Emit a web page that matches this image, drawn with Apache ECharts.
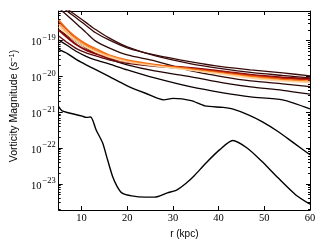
<!DOCTYPE html>
<html>
<head>
<meta charset="utf-8">
<script src="https://cdn.jsdelivr.net/npm/echarts@6/dist/echarts.min.js"></script>
<style>html,body{margin:0;padding:0;background:#fff}#c{width:327px;height:246px}</style>
</head>
<body>
<div id="c"></div>
<script>
// ---- data (r in kpc, vorticity in s^-1) ----
const xTicks = [10, 20, 30, 40, 50, 60];
const yTickExps = [-23, -22, -21, -20, -19];
const yTicks = [1e-23, 1e-22, 1e-21, 1e-20, 1e-19];

const rL1 = [5, 5.75, 7.5, 8.9, 10, 11.1, 12, 13.2, 14.6, 15.7, 16.8, 17.8, 18.9, 21, 23.9, 26, 28.8, 30.9, 33, 34.5, 37.3, 40.2, 43.1, 46.3, 49.5, 53, 56.9, 60];
const vL1 = [1.44e-21, 1.09e-21, 9.4e-22, 8.5e-22, 7.9e-22, 7.2e-22, 7.4e-22, 3.2e-22, 1.40e-22, 4.7e-23, 1.6e-23, 8.4e-24, 5.5e-24, 4.6e-24, 4.25e-24, 4.25e-24, 5.6e-24, 6.8e-24, 1.07e-23, 1.6e-23, 3.9e-23, 8.9e-23, 1.62e-22, 9.9e-23, 4.2e-23, 1.47e-23, 4.9e-24, 2.7e-24];

const rL2 = [5, 7, 9, 11, 13, 16, 20, 24, 28, 30, 34, 37, 41, 43, 46.5, 49.5, 53, 56.5, 60];
const vL2 = [5.7e-20, 4.3e-20, 2.9e-20, 2.11e-20, 1.58e-20, 1.01e-20, 5.5e-21, 3.4e-21, 2.22e-21, 2.44e-21, 2.12e-21, 1.51e-21, 1.37e-21, 1.24e-21, 8.5e-22, 5.5e-22, 2.9e-22, 1.37e-22, 6.5e-23];

const rB = [5, 7, 9, 11, 13, 16, 20, 26, 34, 41, 47, 54, 60];
const vL3  = [1.05e-19, 7.2e-20, 4.9e-20, 3.65e-20, 2.9e-20, 2.25e-20, 1.53e-20, 9.1e-21, 5.1e-21, 3.5e-21, 2.7e-21, 2.22e-21, 1.24e-21];
const vL4  = [2.0e-19, 1.36e-19, 9.2e-20, 6.3e-20, 4.6e-20, 3.1e-20, 2.11e-20, 1.43e-20, 9.75e-21, 6.6e-21, 5.1e-21, 4.1e-21, 3.2e-21];
const vUa  = [8.2e-19, 4.9e-19, 2.9e-19, 1.68e-19, 9.9e-20, 6.3e-20, 4.0e-20, 2.73e-20, 1.43e-20, 9.75e-21, 7.5e-21, 6.2e-21, 5.2e-21];
const vUb  = [1.02e-18, 6.5e-19, 4.2e-19, 2.66e-19, 1.69e-19, 1.05e-19, 6.3e-20, 4.0e-20, 2.56e-20, 1.85e-20, 1.53e-20, 1.26e-20, 1.04e-20];
const vUc  = [1.14e-18, 7.5e-19, 4.9e-19, 3.2e-19, 2.08e-19, 1.2e-19, 6.7e-20, 3.8e-20, 2.25e-20, 1.63e-20, 1.30e-20, 1.07e-20, 9.1e-21];
const vBd2 = [1.36e-19, 8.7e-20, 5.9e-20, 4.6e-20, 3.8e-20, 2.9e-20, 2.32e-20, 1.91e-20, 1.63e-20, 1.34e-20, 1.07e-20, 9.1e-21, 8.3e-21];
const vBd  = [2.0e-19, 1.2e-19, 7.6e-20, 5.5e-20, 4.4e-20, 3.3e-20, 2.56e-20, 2.04e-20, 1.74e-20, 1.39e-20, 1.11e-20, 9.4e-21, 8.6e-21];
const vBr  = [3.35e-19, 1.88e-19, 1.12e-19, 7.4e-20, 5.5e-20, 3.8e-20, 2.73e-20, 2.11e-20, 1.68e-20, 1.34e-20, 1.07e-20, 8.85e-21, 8.0e-21];
const vBo  = [3.8e-19, 2.0e-19, 1.2e-19, 8.1e-20, 6.1e-20, 4.0e-20, 2.9e-20, 2.18e-20, 1.63e-20, 1.26e-20, 1.01e-20, 8.3e-21, 7.3e-21];
const vBl  = [2.9e-19, 1.65e-19, 1.05e-19, 7.2e-20, 5.4e-20, 3.8e-20, 2.73e-20, 2.04e-20, 1.53e-20, 1.18e-20, 9.4e-21, 7.8e-21, 7.1e-21];
const vBp  = [2.43e-19, 1.45e-19, 9.2e-20, 6.5e-20, 4.9e-20, 3.5e-20, 2.56e-20, 1.98e-20, 1.48e-20, 1.15e-20, 9.1e-21, 7.5e-21, 6.8e-21];

const yMin = 1.86e-24, yMax = 6.76e-19;

// minor tick positions of the log axis (2..9 x 10^n)
const minorTicks = [];
for (let e = -24; e <= -19; e++) for (let m = 2; m <= 9; m++) {
  const v = m * Math.pow(10, e);
  if (v > yMin && v < yMax) minorTicks.push(v);
}

const pairs = (r, v) => r.map((x, i) => [x, v[i]]);
const lines = [
  {d: pairs(rL1, vL1), c: '#000000', w: 1.4},
  {d: pairs(rL2, vL2), c: '#000000', w: 1.4},
  {d: pairs(rB, vL3), c: '#0a0000', w: 1.3},
  {d: pairs(rB, vL4), c: '#1e0404', w: 1.3},
  {d: pairs(rB, vUa), c: '#2e0707', w: 1.3},
  {d: pairs(rB, vUb), c: '#3a0a0a', w: 1.3},
  {d: pairs(rB, vUc), c: '#3a0a0a', w: 1.3},
  {d: pairs(rB, vBd2), c: '#5e0c0c', w: 1.3},
  {d: pairs(rB, vBd), c: '#8a0a0a', w: 2},
  {d: pairs(rB, vBr), c: '#c0260c', w: 1.3},
  {d: pairs(rB, vBo), c: '#f26b12', w: 1.5},
  {d: pairs(rB, vBl), c: '#ffa24a', w: 1.4},
  {d: pairs(rB, vBp), c: '#ffd4a0', w: 1.4}
];

const serif = '"Liberation Serif", "DejaVu Serif", serif';
const sans = '"Liberation Sans", Arial, sans-serif';
const axisLine = {show: true, onZero: false, lineStyle: {color: '#000', width: 1}};

const chart = echarts.init(document.getElementById('c'), null, {renderer: 'canvas'});
chart.setOption({
  animation: false,
  backgroundColor: '#fff',
  grid: {left: 51.5, right: 17, top: 11, bottom: 36, containLabel: false},
  xAxis: [
    {type: 'value', min: 5, max: 60, position: 'bottom',
     axisLine: axisLine,
     axisTick: {inside: true, length: 4, customValues: xTicks, lineStyle: {color: '#000'}},
     axisLabel: {customValues: xTicks, fontFamily: serif, fontSize: 10.5, color: '#000', margin: 3},
     splitLine: {show: false},
     name: 'r (kpc)', nameLocation: 'middle', nameGap: 14,
     nameTextStyle: {fontFamily: sans, fontSize: 10, color: '#000'}},
    {type: 'value', min: 5, max: 60, position: 'top',
     axisLine: axisLine,
     axisTick: {inside: true, length: 4, customValues: xTicks, lineStyle: {color: '#000'}},
     axisLabel: {show: false}, splitLine: {show: false}}
  ],
  yAxis: [
    {type: 'log', logBase: 10, min: yMin, max: yMax, position: 'left',
     axisLine: axisLine,
     axisTick: {inside: true, length: 4, customValues: yTicks, lineStyle: {color: '#000'}},
     axisLabel: {customValues: yTicks, margin: 3,
       formatter: v => {
         const i = yTicks.findIndex(t => Math.abs(Math.log10(t) - Math.log10(v)) < 0.01);
         return '{b|10}{s|\u2212' + (-yTickExps[i]) + '}';
       },
       rich: {
         b: {fontFamily: serif, fontSize: 10.5, color: '#000', lineHeight: 15, verticalAlign: 'bottom'},
         s: {fontFamily: serif, fontSize: 8.5, color: '#000', lineHeight: 15, verticalAlign: 'top', padding: [0, 0, 0, 1]}
       }},
     splitLine: {show: false},
     name: 'Vorticity Magnitude ({i|s}{p|\u22121})', nameLocation: 'middle', nameGap: 37,
     nameTextStyle: {fontFamily: sans, fontSize: 10.5, color: '#000', padding: [0, 0, 0, 9],
       rich: {
         i: {fontFamily: sans, fontStyle: 'italic', fontSize: 10.5, color: '#000'},
         p: {fontFamily: sans, fontSize: 7.5, color: '#000', verticalAlign: 'top', lineHeight: 13}
       }}},
    {type: 'log', logBase: 10, min: yMin, max: yMax, position: 'left',
     axisLine: {show: false},
     axisTick: {inside: true, length: 2, customValues: minorTicks, lineStyle: {color: '#000'}},
     axisLabel: {show: false}, splitLine: {show: false}},
    {type: 'log', logBase: 10, min: yMin, max: yMax, position: 'right',
     axisLine: axisLine,
     axisTick: {inside: true, length: 4, customValues: yTicks, lineStyle: {color: '#000'}},
     axisLabel: {show: false}, splitLine: {show: false}},
    {type: 'log', logBase: 10, min: yMin, max: yMax, position: 'right',
     axisLine: {show: false},
     axisTick: {inside: true, length: 2, customValues: minorTicks, lineStyle: {color: '#000'}},
     axisLabel: {show: false}, splitLine: {show: false}}
  ],
  series: lines.map(l => ({
    type: 'line', data: l.d, xAxisIndex: 0, yAxisIndex: 0,
    showSymbol: false, symbol: 'none', smooth: 0.25, clip: true,
    lineStyle: {color: l.c, width: l.w}, emphasis: {disabled: true}
  }))
});
</script>
</body>
</html>
